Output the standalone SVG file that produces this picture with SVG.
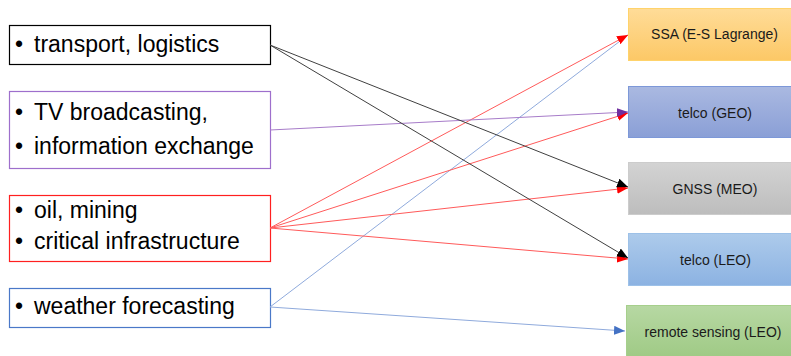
<svg xmlns="http://www.w3.org/2000/svg" width="791" height="356" viewBox="0 0 791 356">
<style>
.lt{font-family:"Liberation Sans",Arial,sans-serif;font-size:23px;fill:#000}
.rt{font-family:"Liberation Sans",Arial,sans-serif;font-size:14px;fill:#1a1a1a;text-anchor:middle}
.lb{fill:#fff;stroke-width:1.2}
.c{fill:none;stroke-width:1}
</style>
<defs>
<linearGradient id="gO" x1="0" y1="0" x2="0" y2="1"><stop offset="0" stop-color="#ffdc98"/><stop offset="1" stop-color="#fcc866"/></linearGradient>
<linearGradient id="gG" x1="0" y1="0" x2="0" y2="1"><stop offset="0" stop-color="#aab9e1"/><stop offset="1" stop-color="#8a9fd6"/></linearGradient>
<linearGradient id="gS" x1="0" y1="0" x2="0" y2="1"><stop offset="0" stop-color="#d3d3d3"/><stop offset="1" stop-color="#bdbdbd"/></linearGradient>
<linearGradient id="gL" x1="0" y1="0" x2="0" y2="1"><stop offset="0" stop-color="#adcbeb"/><stop offset="1" stop-color="#8cb2e2"/></linearGradient>
<linearGradient id="gR" x1="0" y1="0" x2="0" y2="1"><stop offset="0" stop-color="#b7d8a3"/><stop offset="1" stop-color="#9fca85"/></linearGradient>
<marker id="mK" markerUnits="userSpaceOnUse" markerWidth="12" markerHeight="10" refX="11" refY="4.5" orient="auto"><path d="M0,0 L11,4.5 L0,9 z" fill="#000"/></marker>
<marker id="mR" markerUnits="userSpaceOnUse" markerWidth="12" markerHeight="10" refX="11" refY="4.5" orient="auto"><path d="M0,0 L11,4.5 L0,9 z" fill="#ff0000"/></marker>
<marker id="mP" markerUnits="userSpaceOnUse" markerWidth="12" markerHeight="10" refX="11" refY="4.5" orient="auto"><path d="M0,0 L11,4.5 L0,9 z" fill="#7030a0"/></marker>
<marker id="mB" markerUnits="userSpaceOnUse" markerWidth="12" markerHeight="10" refX="11" refY="4.5" orient="auto"><path d="M0,0 L11,4.5 L0,9 z" fill="#4472c4"/></marker>
</defs>

<g id="n-transport">
<rect class="lb" x="9.5" y="25.5" width="261" height="39" stroke="#000"/>
<text class="lt" x="15" y="52">•</text><text class="lt" x="34" y="52">transport, logistics</text>
</g>
<g id="n-tv">
<rect class="lb" x="9.5" y="91.5" width="261" height="77" stroke="#9e6fcc"/>
<text class="lt" x="15" y="120">•</text><text class="lt" x="34" y="120">TV broadcasting,</text>
<text class="lt" x="15" y="154">•</text><text class="lt" x="34" y="154">information exchange</text>
</g>
<g id="n-oil">
<rect class="lb" x="9.5" y="195.5" width="261" height="66" stroke="#ff2020"/>
<text class="lt" x="15" y="218">•</text><text class="lt" x="34" y="218">oil, mining</text>
<text class="lt" x="15" y="249">•</text><text class="lt" x="34" y="249">critical infrastructure</text>
</g>
<g id="n-weather">
<rect class="lb" x="9.5" y="288.5" width="261" height="39" stroke="#4a78c8"/>
<text class="lt" x="15" y="314">•</text><text class="lt" x="34" y="314">weather forecasting</text>
</g>

<g id="n-ssa">
<rect x="628.5" y="8.5" width="172" height="52" fill="url(#gO)" stroke="#ffd36b"/>
<text class="rt" x="714.5" y="39">SSA (E-S Lagrange)</text>
</g>
<g id="n-geo">
<rect x="628.5" y="86.5" width="172" height="51" fill="url(#gG)" stroke="#7d98d8"/>
<text class="rt" x="715" y="118">telco (GEO)</text>
</g>
<g id="n-gnss">
<rect x="628.5" y="162.5" width="172" height="52" fill="url(#gS)" stroke="#cccccc"/>
<text class="rt" x="715" y="194">GNSS (MEO)</text>
</g>
<g id="n-leo">
<rect x="628.5" y="233.5" width="172" height="52" fill="url(#gL)" stroke="#9dc1e8"/>
<text class="rt" x="715.5" y="265">telco (LEO)</text>
</g>
<g id="n-rs">
<rect x="626.5" y="305.5" width="172" height="52" fill="url(#gR)" stroke="#a6cf8c"/>
<text class="rt" x="713" y="337">remote sensing (LEO)</text>
</g>

<g id="connectors">
<line class="c" x1="270" y1="307" x2="628" y2="35" stroke="#8faadc"/>
<line class="c" x1="270" y1="307" x2="625" y2="331" stroke="#8faadc" marker-end="url(#mB)"/>
<line class="c" x1="270" y1="228" x2="628" y2="35" stroke="#ff5a5a" marker-end="url(#mR)"/>
<line class="c" x1="270" y1="228" x2="628" y2="113" stroke="#ff5a5a" marker-end="url(#mR)"/>
<line class="c" x1="270" y1="228" x2="628" y2="188" stroke="#ff5a5a" marker-end="url(#mR)"/>
<line class="c" x1="270" y1="228" x2="628" y2="259" stroke="#ff5a5a" marker-end="url(#mR)"/>
<line class="c" x1="270" y1="130" x2="628" y2="112" stroke="#a77cc9" marker-end="url(#mP)"/>
<line class="c" x1="270" y1="45" x2="628" y2="187" stroke="#404040" marker-end="url(#mK)"/>
<line class="c" x1="270" y1="45" x2="628" y2="258" stroke="#404040" marker-end="url(#mK)"/>
</g>
</svg>
